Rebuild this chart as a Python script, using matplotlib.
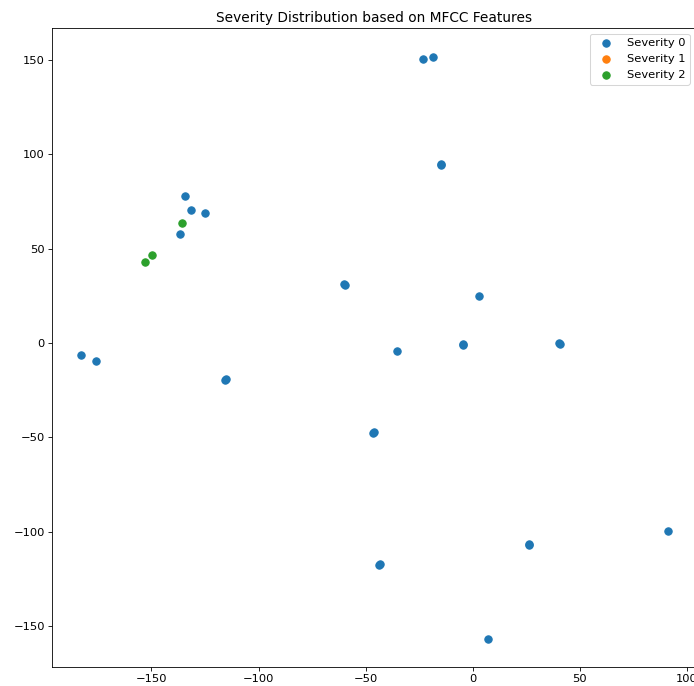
import numpy as np
import matplotlib
matplotlib.use('Agg')
import matplotlib.pyplot as plt

plt.rcParams['font.size'] = 11

# 2-D projection of MFCC features
sev0_x = [-182.7, -176.1, -115.7, -115.4, -134.4, -131.6, -125.1, -136.8,
          -60.0, -59.7, -35.1, -46.4, -46.1, -43.6, -43.3, -23.4, -18.7,
          -15.0, -14.7, 2.8, -4.7, -4.4, 40.3, 40.6, 26.2, 26.5, 7.0, 91.3]
sev0_y = [-6.4, -9.5, -19.6, -19.3, 78.0, 70.5, 68.9, 57.8,
          31.3, 31.0, -4.2, -47.7, -47.4, -117.7, -117.4, 150.6, 151.6,
          94.9, 94.6, 24.9, -0.5, -0.8, 0.0, -0.3, -107.1, -106.8, -157.0, -99.7]
sev1_x = []
sev1_y = []
sev2_x = [-153.2, -149.9, -135.8]
sev2_y = [42.9, 46.7, 63.6]

fig = plt.figure(figsize=(694/75, 686/75), dpi=75)
ax = fig.add_axes([0.075, 0.028, 0.927, 0.931])

ax.scatter(sev0_x, sev0_y, s=50, label='Severity 0')
ax.scatter(sev1_x, sev1_y, s=50, label='Severity 1')
ax.scatter(sev2_x, sev2_y, s=50, label='Severity 2')

ax.set_xlim(-196.4, 104)
ax.set_ylim(-171.7, 167)
ax.set_title('Severity Distribution based on MFCC Features')
ax.legend(loc='upper right')

fig.savefig('out.png', dpi=75)
